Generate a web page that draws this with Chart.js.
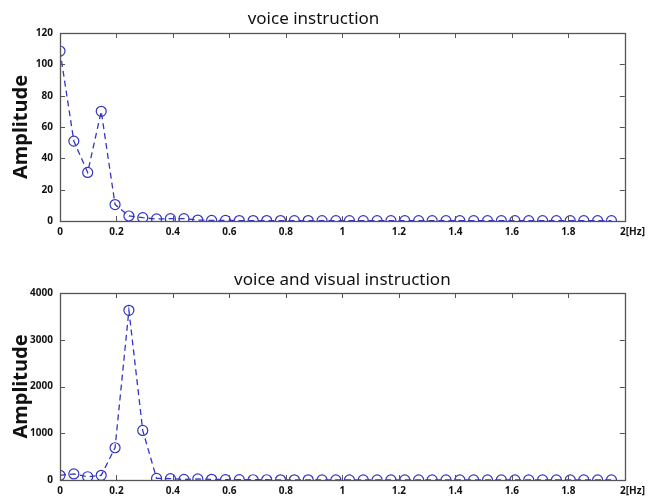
<!DOCTYPE html>
<html><head><meta charset="utf-8">
<script src="https://cdn.jsdelivr.net/npm/chart.js@4"></script>
<style>
html,body{margin:0;padding:0;background:#fff;}
#wrap{position:relative;width:650px;height:497px;}
#c1{position:absolute;left:0;top:0;}
#c2{position:absolute;left:0;top:250px;}
</style></head><body>
<div id="wrap">
<canvas id="c1" width="650" height="250" style="width:650px;height:250px"></canvas>
<canvas id="c2" width="650" height="247" style="width:650px;height:247px"></canvas>
</div>
<script>
const freq = [0, 0.049, 0.098, 0.146, 0.195, 0.244, 0.293, 0.342, 0.391, 0.439, 0.488, 0.537, 0.586, 0.635, 0.684, 0.732, 0.781, 0.830, 0.879, 0.928, 0.977, 1.025, 1.074, 1.123, 1.172, 1.221, 1.270, 1.318, 1.367, 1.416, 1.465, 1.514, 1.563, 1.611, 1.660, 1.709, 1.758, 1.807, 1.855, 1.904, 1.953];
const ampVoice = [108.5, 51, 31, 70, 10.5, 3.2, 2.1, 1.3, 1.5, 1.5, 0.6, 0.4, 0.4, 0.3, 0.3, 0.3, 0.3, 0.2, 0.3, 0.2, 0.2, 0.2, 0.2, 0.2, 0.2, 0.2, 0.2, 0.2, 0.2, 0.2, 0.2, 0.2, 0.2, 0.2, 0.2, 0.2, 0.2, 0.2, 0.2, 0.2, 0.2];
const ampVisual = [100, 130, 70, 100, 690, 3630, 1060, 35, 30, 12, 22, 15, 8, 6, 5, 5, 4, 4, 4, 3, 3, 3, 3, 3, 3, 3, 3, 3, 3, 3, 3, 3, 3, 3, 3, 3, 3, 3, 3, 3, 3];
const xTicks = [0, 0.2, 0.4, 0.6, 0.8, 1, 1.2, 1.4, 1.6, 1.8, 2];
const xTickLabels = ['0', '0.2', '0.4', '0.6', '0.8', '1', '1.2', '1.4', '1.6', '1.8', '      2[Hz]'];
const yTicksVoice = [0, 20, 40, 60, 80, 100, 120];
const yTicksVisual = [0, 1000, 2000, 3000, 4000];
const titles = ['voice instruction', 'voice and visual instruction'];
const yTitle = 'Amplitude';

const BLUE = '#3434c4';
const FRAME = '#555555';
const tickFont = {family: "'Noto Sans', 'DejaVu Sans', sans-serif", size: 10, weight: 'bold'};

const framePlugin = {
  id: 'frame',
  afterDatasetsDraw(chart) {
    const {ctx, chartArea: a, scales: {x, y}} = chart;
    ctx.save();
    ctx.strokeStyle = FRAME;
    ctx.lineWidth = 1;
    ctx.beginPath();
    x.ticks.forEach(t => {
      if (t.value <= x.min || t.value >= x.max) return;
      const px = Math.round(x.getPixelForValue(t.value)) + 0.5;
      ctx.moveTo(px, a.bottom); ctx.lineTo(px, a.bottom - 5);
      ctx.moveTo(px, a.top); ctx.lineTo(px, a.top + 5);
    });
    y.ticks.forEach(t => {
      if (t.value <= y.min || t.value >= y.max) return;
      const py = Math.round(y.getPixelForValue(t.value)) + 0.5;
      ctx.moveTo(a.left, py); ctx.lineTo(a.left + 5, py);
      ctx.moveTo(a.right, py); ctx.lineTo(a.right - 5, py);
    });
    ctx.stroke();
    ctx.lineWidth = 1.3;
    ctx.strokeRect(Math.round(a.left) + 0.5, Math.round(a.top) + 0.5, Math.round(a.right - a.left), Math.round(a.bottom - a.top));
    ctx.restore();
  }
};

function makeChart(id, values, yTicks, title, opts) {
  return new Chart(document.getElementById(id), {
    type: 'line',
    data: {
      datasets: [{
        data: freq.map((f, i) => ({x: f, y: values[i]})),
        borderColor: BLUE,
        borderWidth: 1.3,
        borderDash: [6, 4],
        pointStyle: 'circle',
        pointRadius: 5,
        pointBorderWidth: 1.2,
        pointBorderColor: BLUE,
        pointBackgroundColor: 'rgba(0,0,0,0)',
        tension: 0,
        fill: false
      }]
    },
    options: {
      responsive: false,
      animation: false,
      layout: {padding: {left: 0, right: 23, top: 0, bottom: opts.padBottom}},
      plugins: {
        legend: {display: false},
        tooltip: {enabled: false},
        title: {
          display: true, text: title, color: '#111',
          fullSize: opts.fullSize,
          font: {family: "'Noto Sans', 'Open Sans', sans-serif", size: 17, weight: 'normal'},
          padding: {top: opts.titleTop, bottom: opts.titleBottom}
        }
      },
      scales: {
        x: {
          type: 'linear', min: 0, max: 2,
          afterBuildTicks: s => { s.ticks = xTicks.map(v => ({value: v})); },
          afterFit: s => { s.height = 17; },
          grid: {display: false, drawTicks: false},
          border: {display: false},
          ticks: {
            color: '#111', font: tickFont, padding: 5, maxRotation: 0, autoSkip: false,
            callback: (v, i) => xTickLabels[i]
          }
        },
        y: {
          type: 'linear', min: yTicks[0], max: yTicks[yTicks.length - 1],
          afterBuildTicks: s => { s.ticks = yTicks.map(v => ({value: v})); },
          afterFit: s => { s.width = 60; },
          grid: {display: false, drawTicks: false},
          border: {display: false},
          ticks: {color: '#111', font: tickFont, padding: 7, callback: v => String(v)},
          title: {
            display: true, text: yTitle, color: '#111',
            font: {family: "'Noto Sans', 'DejaVu Sans', sans-serif", size: 20, weight: 'bold'},
            padding: {top: 9, bottom: 0}
          }
        }
      }
    },
    plugins: [framePlugin]
  });
}

makeChart('c1', ampVoice, yTicksVoice, titles[0], {padBottom: 12, fullSize: true, titleTop: 9, titleBottom: 3.6});
makeChart('c2', ampVisual, yTicksVisual, titles[1], {padBottom: 0, fullSize: false, titleTop: 20, titleBottom: 2.6});
</script>
</body></html>
